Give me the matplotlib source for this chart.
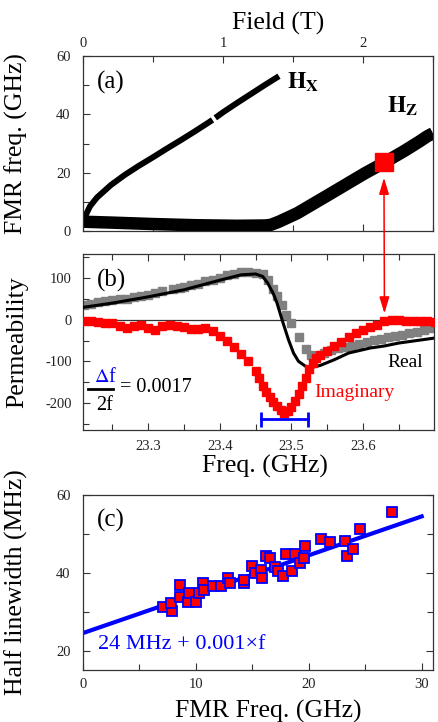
import matplotlib
matplotlib.use("Agg")
import matplotlib.pyplot as plt
from matplotlib.patches import ConnectionPatch
from matplotlib.ticker import MultipleLocator

plt.rcParams['font.family'] = ['Liberation Serif', 'DejaVu Serif']
plt.rcParams['mathtext.fontset'] = 'stix'
plt.rcParams['axes.unicode_minus'] = False

# (a) FMR frequency vs field
hx_field_1 = [0.005, 0.02, 0.05, 0.1, 0.2, 0.3, 0.4, 0.5, 0.6, 0.7, 0.8, 0.9, 0.925]
hx_freq_1 = [3.0, 5.5, 8.5, 11.5, 15.8, 19.3, 22.4, 25.3, 28.3, 31.2, 34.2, 37.3, 38.1]
hx_field_2 = [0.945, 1.0, 1.1, 1.2, 1.3, 1.40]
hx_freq_2 = [38.8, 40.7, 43.9, 47.0, 50.1, 53.1]
hz_field = [0.0, 0.2, 0.5, 0.8, 1.1, 1.30, 1.34, 1.40, 1.53, 1.75, 2.01, 2.15, 2.30, 2.40, 2.46, 2.50]
hz_freq = [3.2, 2.9, 2.4, 2.0, 1.8, 1.9, 2.1, 3.2, 6.1, 12.3, 19.7, 23.4, 27.6, 30.6, 32.5, 33.5]
mark_field = [2.15]
mark_freq = [23.7]

# (b) permeability vs frequency
re_f = [23.21, 23.22, 23.23, 23.24, 23.25, 23.26, 23.27, 23.28, 23.29, 23.30, 23.31, 23.32,
        23.335, 23.345, 23.35, 23.36, 23.37, 23.38, 23.39,
        23.40, 23.41, 23.42, 23.43, 23.44, 23.45, 23.46, 23.467, 23.475, 23.48, 23.487, 23.493,
        23.50, 23.51, 23.52, 23.528, 23.535, 23.545, 23.555, 23.565, 23.575, 23.585, 23.595,
        23.605, 23.615, 23.625, 23.635, 23.645, 23.655, 23.665, 23.675, 23.685, 23.695]
re_mu = [36, 38, 42, 45, 47, 49, 51, 54, 57, 60, 64, 68,
         74, 77, 79, 83, 87, 92, 96,
         101, 107, 111, 114, 115, 113, 111, 95, 75, 58, 35, 12,
         -8, -42, -70, -85, -88, -80, -72, -68, -65, -62, -58,
         -53, -49, -46, -42, -39, -36, -33, -29, -24, -20]
im_f = [23.21, 23.22, 23.23, 23.24, 23.25, 23.26, 23.27, 23.28, 23.29, 23.30, 23.31, 23.32,
        23.33, 23.34, 23.35, 23.36, 23.37, 23.38, 23.39, 23.40, 23.41, 23.42, 23.43, 23.44,
        23.45, 23.455, 23.46, 23.465, 23.47, 23.475, 23.48, 23.485, 23.49, 23.495, 23.50,
        23.505, 23.51, 23.515, 23.52, 23.525, 23.53, 23.535, 23.54, 23.55, 23.56, 23.57,
        23.58, 23.59, 23.60, 23.61, 23.62, 23.63, 23.64, 23.65, 23.66, 23.67, 23.68, 23.69, 23.70]
im_mu = [-2, -4, -5, -7, -9, -14, -20, -16, -12, -20, -24, -14,
         -12, -15, -18, -22, -22, -19, -28, -40, -52, -66, -82, -100,
         -122, -140, -160, -174, -186, -198, -208, -218, -224, -220, -210,
         -195, -178, -160, -140, -118, -104, -93, -85, -74, -64, -53,
         -42, -33, -25, -18, -12, -4, 0, -1, -3, -2, -4, -4, -5]
fit_f = [23.21, 23.25, 23.30, 23.35, 23.40, 23.43, 23.45, 23.46, 23.467, 23.475, 23.48, 23.487,
         23.496, 23.503, 23.51, 23.52, 23.53, 23.54, 23.56, 23.58, 23.61, 23.63, 23.65, 23.675, 23.70]
fit_mu = [30, 40, 55, 72, 95, 108, 110, 104, 88, 62, 40, 0,
          -48, -80, -100, -112, -114, -110, -96, -80, -68, -63, -56, -50, -44]
width_f = [23.458, 23.523]
width_mu = -239

# (c) half linewidth vs FMR frequency
lw_f = [7.07, 7.9, 7.8, 8.55, 8.55, 9.3, 9.4, 10.0, 10.3, 10.67, 10.76, 11.5, 12.2, 12.8, 13.0,
        14.3, 14.3, 15.0, 15.2, 15.8, 15.9, 16.2, 16.6, 17.0, 17.3, 17.7, 18.0, 18.5, 18.8,
        19.2, 19.6, 19.7, 21.1, 21.9, 23.2, 23.4, 23.9, 24.5, 27.4]
lw_mhz = [31.1, 30.1, 32.2, 36.8, 33.9, 32.6, 34.8, 32.6, 34.8, 37.4, 35.6, 36.7, 36.7, 38.6, 37.4,
          37.4, 38.2, 41.8, 39.9, 40.8, 38.6, 44.2, 43.8, 41.6, 40.5, 39.2, 44.9, 40.5, 44.9,
          42.5, 43.8, 46.8, 48.6, 48.0, 48.2, 44.2, 46.1, 51.2, 55.6]
line_f = [0, 30]
line_mhz = [24.5, 54.5]

fig = plt.figure(figsize=(4.38, 7.22), dpi=100)
ax_a = fig.add_axes([0.1895, 0.680, 0.799, 0.2424])
ax_b = fig.add_axes([0.1895, 0.4044, 0.801, 0.2438])
ax_c = fig.add_axes([0.1895, 0.0720, 0.799, 0.2424])

for ax in (ax_a, ax_b, ax_c):
    for s in ax.spines.values():
        s.set_linewidth(0.9)
        s.set_color('#333333')
    ax.tick_params(which='both', direction='in', labelsize=10.5, width=0.8, colors='#333333',
                   labelcolor='#222222')
    ax.tick_params(which='major', length=5)
    ax.tick_params(which='minor', length=4)

# panel (a)
ax_a.plot(hx_field_1, hx_freq_1, color='k', lw=4.3, solid_capstyle='butt')
ax_a.plot(hx_field_2, hx_freq_2, color='k', lw=4.3, solid_capstyle='butt')
ax_a.plot(hz_field, hz_freq, color='k', lw=9, solid_capstyle='butt')
ax_a.plot(mark_field, mark_freq, 's', color='red', ms=13.5, zorder=5)
ax_a.set_xlim(0, 2.5)
ax_a.set_ylim(0, 60)
ax_a.xaxis.set_major_locator(MultipleLocator(1))
ax_a.xaxis.set_minor_locator(MultipleLocator(0.5))
ax_a.yaxis.set_major_locator(MultipleLocator(20))
ax_a.yaxis.set_minor_locator(MultipleLocator(10))
ax_a.tick_params(axis='x', which='both', top=True, bottom=True, labeltop=True, labelbottom=False, pad=4)
ax_a.tick_params(axis='y', pad=9)
ax_a.set_xlabel('Field (T)', fontsize=18.5)
ax_a.xaxis.set_label_position('top')
ax_a.xaxis.set_label_coords(0.557, 1.15)
ax_a.set_ylabel('FMR freq. (GHz)', fontsize=18.5)
ax_a.yaxis.set_label_coords(-0.157, 0.5)
ax_a.text(0.08, 0.85, '(a)', transform=ax_a.transAxes, fontsize=18, ha='center', va='center')
ax_a.text(0.583, 0.85, r'$\mathbf{H}_{\mathbf{X}}$', transform=ax_a.transAxes, fontsize=17,
          ha='left', va='center')
ax_a.text(0.869, 0.71, r'$\mathbf{H}_{\mathbf{Z}}$', transform=ax_a.transAxes, fontsize=17,
          ha='left', va='center')

# panel (b)
ax_b.axhline(0, color='#333333', lw=0.9, zorder=1)
ax_b.plot(re_f, re_mu, 's', color='#808080', ms=6, zorder=2)
ax_b.plot(fit_f, fit_mu, color='k', lw=2.2, zorder=3)
ax_b.plot(im_f, im_mu, 's', color='red', ms=6.2, zorder=4)
ax_b.plot(width_f, [width_mu, width_mu], color='blue', lw=2, zorder=5)
ax_b.vlines(width_f, width_mu - 18, width_mu + 18, color='blue', lw=2, zorder=5)
ax_b.set_xlim(23.209, 23.699)
ax_b.set_ylim(-265, 158)
ax_b.xaxis.set_major_locator(MultipleLocator(0.1))
ax_b.xaxis.set_minor_locator(MultipleLocator(0.05))
ax_b.yaxis.set_major_locator(MultipleLocator(100))
ax_b.yaxis.set_minor_locator(MultipleLocator(50))
ax_b.tick_params(axis='x', which='both', top=True, pad=7)
ax_b.tick_params(axis='y', pad=8)
ax_b.set_xlabel('Freq. (GHz)', fontsize=18.5)
ax_b.xaxis.set_label_coords(0.52, -0.14)
ax_b.set_ylabel('Permeability', fontsize=18.5)
ax_b.yaxis.set_label_coords(-0.157, 0.5)
ax_b.text(0.082, 0.852, '(b)', transform=ax_b.transAxes, fontsize=18, ha='center', va='center')
ax_b.text(0.917, 0.386, 'Real', transform=ax_b.transAxes, fontsize=14, ha='center', va='center')
ax_b.text(0.774, 0.216, 'Imaginary', transform=ax_b.transAxes, fontsize=14, color='red',
          ha='center', va='center')
ax_b.text(0.065, 0.30, r'$\Delta$f', transform=ax_b.transAxes, fontsize=14.5, color='blue',
          ha='center', va='center')
ax_b.plot([0.014, 0.085], [0.233, 0.233], transform=ax_b.transAxes, color='k', lw=2)
ax_b.text(0.062, 0.142, '2f', transform=ax_b.transAxes, fontsize=14.5, ha='center', va='center')
ax_b.text(0.105, 0.244, '= 0.0017', transform=ax_b.transAxes, fontsize=14.5, ha='left', va='center')

# arrow linking the marked point in (a) to the trace in (b)
arrow = ConnectionPatch(xyA=(mark_field[0], 18.3), coordsA=ax_a.transData,
                        xyB=(23.63, 15), coordsB=ax_b.transData,
                        arrowstyle='<|-|>,head_length=1.0,head_width=0.3',
                        color='red', lw=1.1, mutation_scale=10, zorder=10)
fig.add_artist(arrow)

# panel (c)
ax_c.plot(line_f, line_mhz, color='blue', lw=3, zorder=2)
ax_c.plot(lw_f, lw_mhz, 's', color='red', mec='blue', mew=1.3, ms=6.5, zorder=3)
ax_c.set_xlim(0, 31)
ax_c.set_ylim(15, 60)
ax_c.xaxis.set_major_locator(MultipleLocator(10))
ax_c.xaxis.set_minor_locator(MultipleLocator(5))
ax_c.yaxis.set_major_locator(MultipleLocator(20))
ax_c.yaxis.set_minor_locator(MultipleLocator(10))
ax_c.tick_params(axis='y', which='both', right=True, pad=9)
ax_c.tick_params(axis='x', pad=6)
ax_c.set_xlabel('FMR Freq. (GHz)', fontsize=18.5)
ax_c.xaxis.set_label_coords(0.53, -0.17)
ax_c.set_ylabel('Half linewidth (MHz)', fontsize=18.5)
ax_c.yaxis.set_label_coords(-0.157, 0.5)
ax_c.text(0.08, 0.857, '(c)', transform=ax_c.transAxes, fontsize=18, ha='center', va='center')
ax_c.text(0.043, 0.143, '24 MHz + 0.001\u00d7f', transform=ax_c.transAxes, fontsize=16,
          color='blue', ha='left', va='center')

fig.savefig('out.png', dpi=100)
